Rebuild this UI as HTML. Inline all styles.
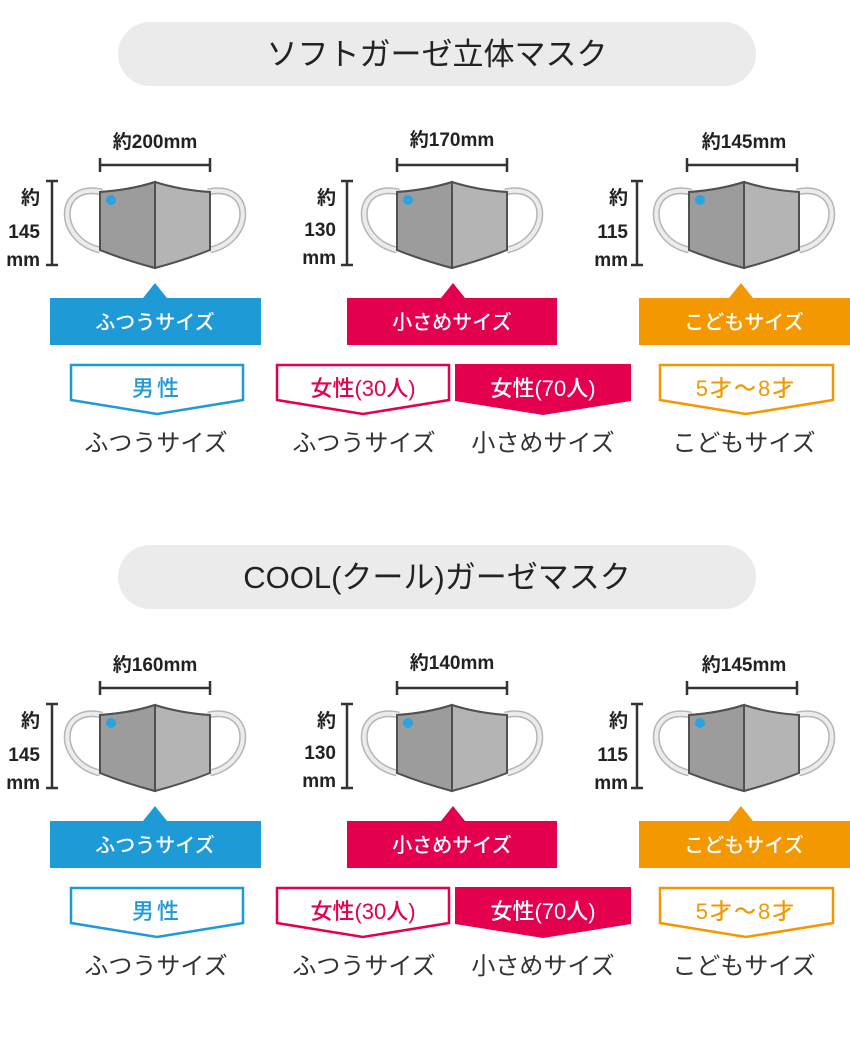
<!DOCTYPE html>
<html><head><meta charset="utf-8"><style>
html,body{margin:0;padding:0;background:#fff;}
svg{display:block;}
text{font-family:"Liberation Sans","Noto Sans CJK JP",sans-serif;}
.jp{font-family:"Noto Sans CJK JP",sans-serif;font-weight:500;}
.jpn{font-family:"Noto Sans CJK JP",sans-serif;font-weight:400;}
</style></head><body>
<svg width="850" height="1050" viewBox="0 0 850 1050" xmlns="http://www.w3.org/2000/svg">
<defs>
<g id="mask">
  <path d="M2,10 C-44,0 -44,58 0,68" fill="none" stroke="#b5b5b5" stroke-width="7"/>
  <path d="M2,10 C-44,0 -44,58 0,68" fill="none" stroke="#ececec" stroke-width="4"/>
  <path d="M108,10 C154,0 154,58 110,68" fill="none" stroke="#b5b5b5" stroke-width="7"/>
  <path d="M108,10 C154,0 154,58 110,68" fill="none" stroke="#ececec" stroke-width="4"/>
  <path d="M0,10 Q30,8 55,0 Q80,8 110,10 L110,68 Q85,78 55,86 Q25,78 0,68 Z" fill="#b4b4b4" stroke="#505050" stroke-width="2"/>
  <path d="M0,10 Q30,8 55,0 L55,86 Q25,78 0,68 Z" fill="#9c9c9c" stroke="#505050" stroke-width="2"/>
  <circle cx="11" cy="18" r="5" fill="#2aa3e0"/>
</g>
<g id="sec">
  <rect x="118" y="22" width="638" height="64" rx="32" fill="#ebebeb"/>
  <use href="#mask" x="100" y="182"/>
  <g stroke="#333" stroke-width="2.5" fill="none">
    <path d="M100,158V172M100,165H210M210,158V172"/>
    <path d="M46,181H58M52,181V265M46,265H58"/>
    <path d="M397,158V172M397,165H507M507,158V172"/>
    <path d="M341,181H353M347,181V265M341,265H353"/>
    <path d="M687,158V172M687,165H797M797,158V172"/>
    <path d="M631,181H643M637,181V265M631,265H643"/>
  </g>
  <use href="#mask" x="397" y="182"/>
  <use href="#mask" x="689" y="182"/>
  <g font-size="19" font-weight="bold" fill="#222">
    <text x="40" y="204" text-anchor="end">約</text>
    <text x="40" y="238" text-anchor="end">145</text>
    <text x="40" y="266" text-anchor="end">mm</text>
    <text x="336" y="204" text-anchor="end">約</text>
    <text x="336" y="236" text-anchor="end">130</text>
    <text x="336" y="264" text-anchor="end">mm</text>
    <text x="628" y="204" text-anchor="end">約</text>
    <text x="628" y="238" text-anchor="end">115</text>
    <text x="628" y="266" text-anchor="end">mm</text>
  </g>
  <polygon points="50,298 143,298 155,283 167,298 261,298 261,345 50,345" fill="#1e9ad6"/>
  <polygon points="347,298 441,298 453,283 465,298 557,298 557,345 347,345" fill="#e4004f"/>
  <polygon points="639,298 729,298 741,283 753,298 850,298 850,345 639,345" fill="#f39800"/>
  <g class="jp" font-size="20" fill="#fff" text-anchor="middle">
    <text x="155" y="329">ふつうサイズ</text>
    <text x="452" y="329">小さめサイズ</text>
    <text x="744" y="329">こどもサイズ</text>
  </g>
  <polygon points="71,365 243,365 243,400 157,414 71,400" fill="#fff" stroke="#1e9ad6" stroke-width="2.5"/>
  <polygon points="277,365 449,365 449,400 363,414 277,400" fill="#fff" stroke="#e4004f" stroke-width="2.5"/>
  <polygon points="455,364 631,364 631,401 543,415 455,401" fill="#e4004f"/>
  <polygon points="660,365 833,365 833,400 746,414 660,400" fill="#fff" stroke="#f39800" stroke-width="2.5"/>
  <g class="jp" font-size="22" text-anchor="middle">
    <text x="157" y="396" fill="#1e9ad6" letter-spacing="3">男性</text>
    <text x="363" y="396" fill="#e4004f">女性(30人)</text>
    <text x="543" y="396" fill="#fff">女性(70人)</text>
    <text x="746" y="396" fill="#f39800" letter-spacing="2">5才～8才</text>
  </g>
  <g class="jpn" font-size="24" fill="#333" text-anchor="middle">
    <text x="156" y="451">ふつうサイズ</text>
    <text x="364" y="451">ふつうサイズ</text>
    <text x="543" y="451">小さめサイズ</text>
    <text x="744" y="451">こどもサイズ</text>
  </g>
</g>
</defs>
<use href="#sec" x="0" y="0"/>
<use href="#sec" x="0" y="523"/>
<g font-size="31" fill="#222" text-anchor="middle">
  <text x="437" y="65">ソフトガーゼ立体マスク</text>
  <text x="437" y="588">COOL(クール)ガーゼマスク</text>
</g>
<g font-size="19" font-weight="bold" fill="#222" text-anchor="middle">
  <text x="155" y="148">約200mm</text>
  <text x="452" y="146">約170mm</text>
  <text x="744" y="148">約145mm</text>
  <text x="155" y="671">約160mm</text>
  <text x="452" y="669">約140mm</text>
  <text x="744" y="671">約145mm</text>
</g>
</svg>
</body></html>
